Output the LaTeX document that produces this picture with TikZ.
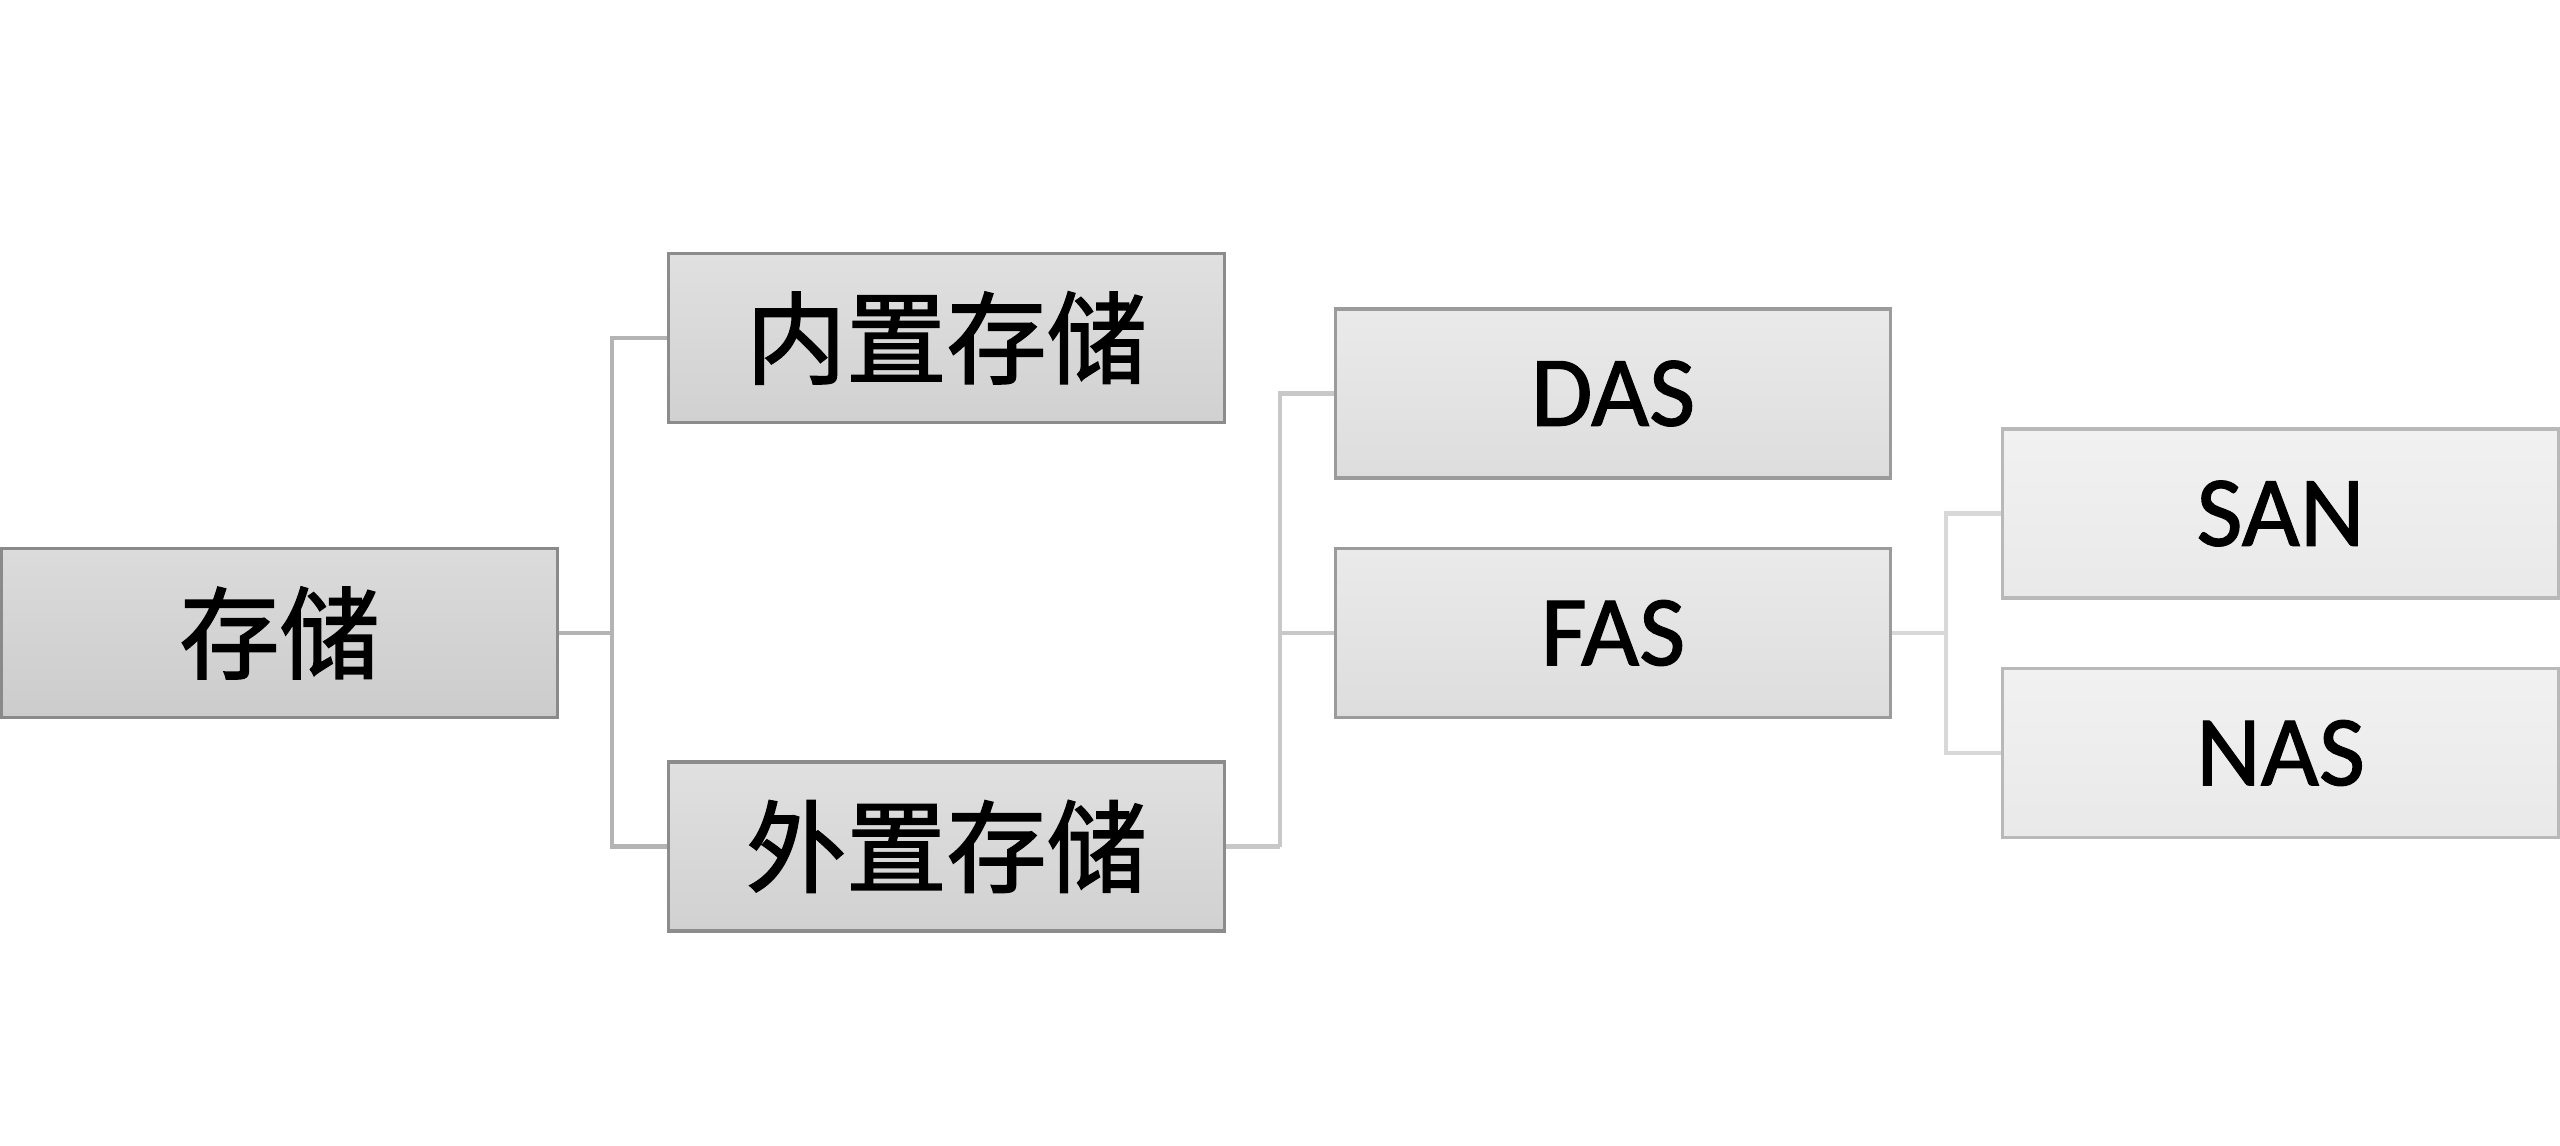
\documentclass[tikz,border=0pt]{standalone}
\usepackage{fontspec}
\setmainfont[FakeBold=1.2]{Carlito}
\newfontfamily\cjk[FakeBold=1.6]{Noto Sans CJK SC}
\begin{document}
\begin{tikzpicture}[x=0.01cm,y=-0.01cm,
  box/.style={rectangle, minimum width=5.55cm, minimum height=1.69cm, inner sep=0pt, line width=0.9pt, font=\fontsize{28.5}{34}\selectfont},
  lvA/.style={box, draw={rgb,255:red,138;green,138;blue,138}, top color={rgb,255:red,219;green,219;blue,219}, bottom color={rgb,255:red,204;green,204;blue,204}},
  lvB/.style={box, draw={rgb,255:red,140;green,140;blue,140}, top color={rgb,255:red,224;green,224;blue,224}, bottom color={rgb,255:red,209;green,209;blue,209}},
  lvC/.style={box, draw={rgb,255:red,155;green,155;blue,155}, top color={rgb,255:red,234;green,234;blue,234}, bottom color={rgb,255:red,221;green,221;blue,221}},
  lvD/.style={box, draw={rgb,255:red,185;green,185;blue,185}, top color={rgb,255:red,241;green,241;blue,241}, bottom color={rgb,255:red,233;green,233;blue,233}},
  linkA/.style={draw={rgb,255:red,180;green,180;blue,180}, line width=1.3pt},
  linkB/.style={draw={rgb,255:red,200;green,200;blue,200}, line width=1.3pt},
  linkC/.style={draw={rgb,255:red,216;green,216;blue,216}, line width=1.3pt}]
\fill[white] (0,0) rectangle (2560,1146);
\useasboundingbox (0,0) rectangle (2560,1146);

\node[lvA] (root) at (279.5,633) {\cjk 存储};
\node[lvB] (inner) at (946.5,338) {\cjk 内置存储};
\node[lvB] (outer) at (946.5,846.5) {\cjk 外置存储};
\node[lvC] (das) at (1613,393.5) {DAS};
\node[lvC] (fas) at (1613,633) {FAS};
\node[lvD] (san) at (2280.5,513.5) {SAN};
\node[lvD] (nas) at (2280.5,753) {NAS};

\coordinate (j1) at (612,633);
\coordinate (j2) at (1280,846.5);
\coordinate (j3) at (1946,633);

\draw[linkA] (root.east) -- (j1);
\draw[linkA] (inner.west) -| (j1) |- (outer.west);
\draw[linkB] (outer.east) -- (j2);
\draw[linkB] (das.west) -| (j2);
\draw[linkB] (fas.west) -- (fas.west -| j2);
\draw[linkC] (fas.east) -- (j3);
\draw[linkC] (san.west) -| (j3) |- (nas.west);
\end{tikzpicture}
\end{document}
